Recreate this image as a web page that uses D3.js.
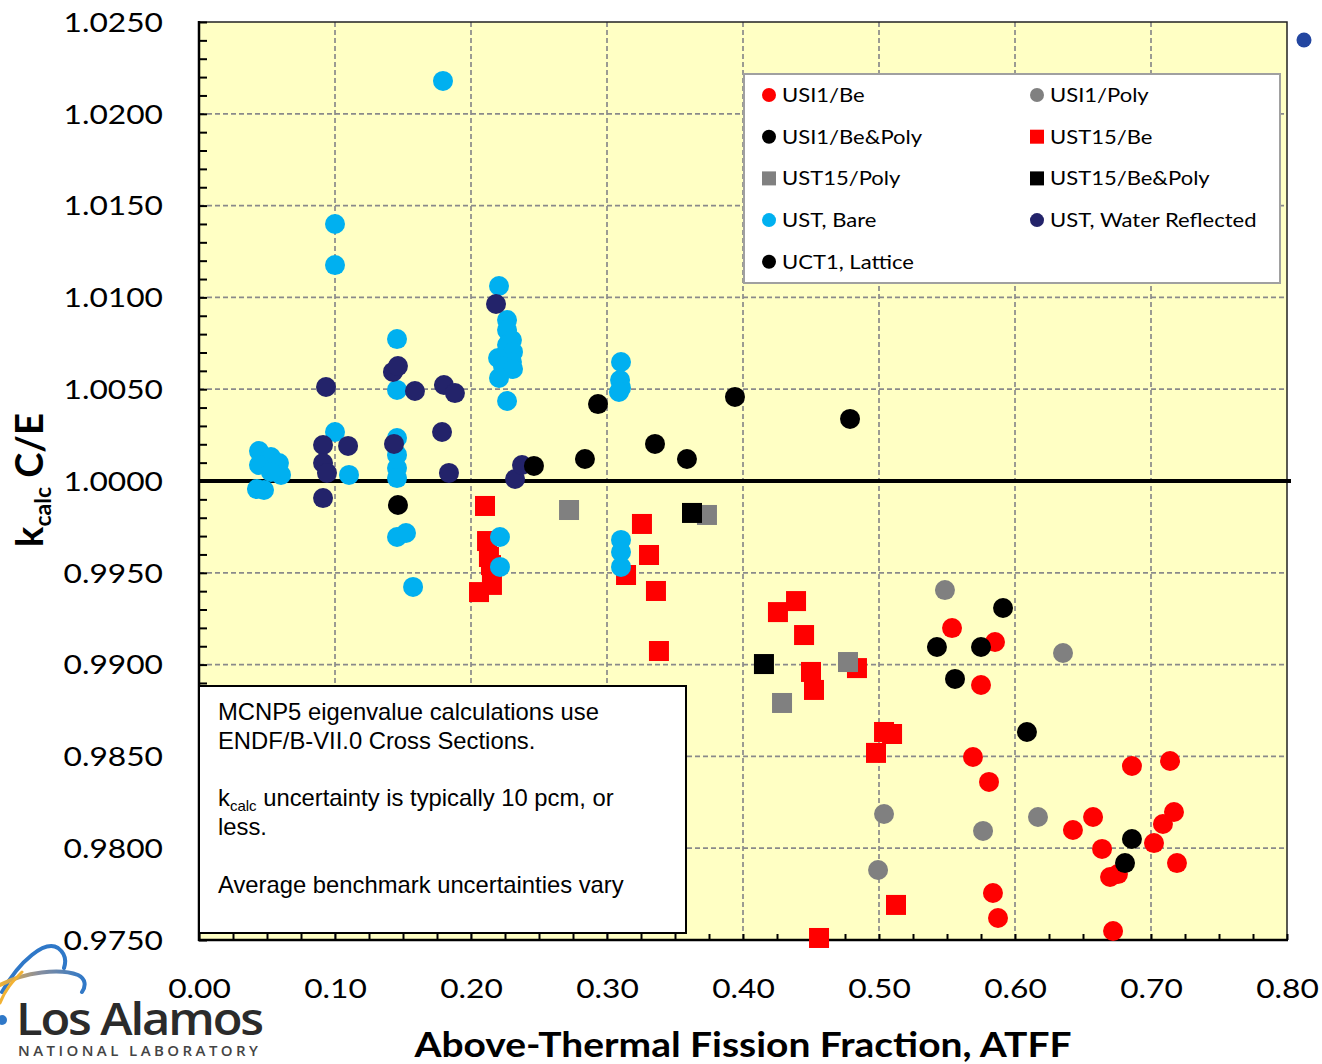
<!DOCTYPE html>
<html>
<head>
<meta charset="utf-8">
<script src="https://cdn.jsdelivr.net/npm/d3@7"></script>
<style>
  body { margin: 0; background: #fff; }
  svg { display: block; }
</style>
</head>
<body>
<svg id="chart" width="1322" height="1064"></svg>
<script>
// ---- data: [ATFF, kcalc C/E] ----
var usi1Be = [[0.5537,0.99199],[0.5853,0.99123],[0.5750,0.98889],[0.5691,0.98497],[0.5809,0.98361],
  [0.6860,0.98448],[0.7140,0.98475],[0.6574,0.98170],[0.6426,0.98099],[0.6640,0.97996],
  [0.7169,0.98197],[0.7088,0.98132],[0.7022,0.98028],[0.7191,0.97919],[0.6699,0.97843],
  [0.6757,0.97859],[0.5838,0.97756],[0.5875,0.97620],[0.6721,0.97549]];
var usi1Poly = [[0.5485,0.99406],[0.6353,0.99063],[0.5037,0.98186],[0.4993,0.97881],[0.5765,0.98094],[0.6169,0.98170]];
var usi1BePoly = [[0.5912,0.99308],[0.5426,0.99096],[0.5750,0.99096],[0.5559,0.98922],[0.6088,0.98633],
  [0.6860,0.98050],[0.6809,0.97919]];
var ust15Be = [[0.2103,0.99864],[0.2118,0.99673],[0.2132,0.99586],[0.2147,0.99542],[0.2154,0.99434],
  [0.2059,0.99395],[0.3257,0.99766],[0.3309,0.99597],[0.3140,0.99488],[0.3360,0.99401],
  [0.3382,0.99074],[0.4390,0.99346],[0.4257,0.99286],[0.4449,0.99161],[0.4500,0.98960],
  [0.4522,0.98862],[0.4838,0.98981],[0.5037,0.98633],[0.5096,0.98622],[0.4978,0.98519],
  [0.5125,0.97691],[0.4559,0.97511]];
var ust15Poly = [[0.2721,0.99842],[0.3735,0.99815],[0.4772,0.99014],[0.4287,0.98791]];
var ust15BePoly = [[0.3625,0.99826],[0.4154,0.99003]];
var ustBare = [[0.1794,1.02179],[0.1000,1.01400],[0.1000,1.01176],[0.0441,1.00163],[0.0529,1.00131],
  [0.0588,1.00098],[0.0441,1.00087],[0.0603,1.00033],[0.0529,1.00049],[0.0426,0.99956],
  [0.0478,0.99951],[0.1000,1.00267],[0.1103,1.00033],[0.1456,1.00773],[0.1456,1.00496],
  [0.1456,1.00234],[0.1456,1.00142],[0.1456,1.00071],[0.1456,1.00016],[0.1456,0.99695],
  [0.1522,0.99717],[0.1574,0.99423],[0.2206,1.01062],[0.2265,1.00877],[0.2265,1.00822],
  [0.2301,1.00768],[0.2265,1.00741],[0.2309,1.00703],[0.2199,1.00670],[0.2301,1.00648],
  [0.2235,1.00626],[0.2309,1.00610],[0.2206,1.00561],[0.2265,1.00436],[0.2213,0.99695],
  [0.2213,0.99532],[0.3103,1.00648],[0.3096,1.00550],[0.3103,1.00507],[0.3088,1.00485],
  [0.3103,0.99679],[0.3103,0.99613],[0.3103,0.99532]];
var ustWater = [[0.0934,1.00512],[0.0912,1.00196],[0.0912,1.00098],[0.0941,1.00044],[0.0912,0.99907],
  [0.1096,1.00191],[0.1426,1.00594],[0.1463,1.00626],[0.1588,1.00490],[0.1434,1.00202],
  [0.1801,1.00523],[0.1882,1.00479],[0.1787,1.00267],[0.1838,1.00044],[0.2184,1.00964],
  [0.2324,1.00011],[0.2375,1.00087]];
var uct1Lattice = [[0.1463,0.99869],[0.2463,1.00082],[0.2838,1.00120],[0.2934,1.00419],[0.3353,1.00202],
  [0.3588,1.00120],[0.3941,1.00458],[0.4787,1.00338]];
var strayPoint = [[0.8125,1.02402]];

var seriesNames = ["USI1/Be","USI1/Poly","USI1/Be&Poly","UST15/Be","UST15/Poly","UST15/Be&Poly",
  "UST, Bare","UST, Water Reflected","UCT1, Lattice"];
var seriesData = [usi1Be, usi1Poly, usi1BePoly, ust15Be, ust15Poly, ust15BePoly, ustBare, ustWater, uct1Lattice];
var seriesShapes = ["circle","circle","circle","square","square","square","circle","circle","circle"];
var seriesColors = ["#ff0000","#808080","#000000","#ff0000","#808080","#000000","#00b0f0","#23236a","#000000"];

var xTickValues = [0,0.1,0.2,0.3,0.4,0.5,0.6,0.7,0.8];
var xTickLabels = ["0.00","0.10","0.20","0.30","0.40","0.50","0.60","0.70","0.80"];
var yTickValues = [0.975,0.98,0.985,0.99,0.995,1.0,1.005,1.01,1.015,1.02,1.025];
var yTickLabels = ["0.9750","0.9800","0.9850","0.9900","0.9950","1.0000","1.0050","1.0100","1.0150","1.0200","1.0250"];

var noteLines = ["MCNP5 eigenvalue calculations use","ENDF/B-VII.0 Cross Sections.","",
  "k|calc| uncertainty is typically 10 pcm, or","less.","","Average benchmark uncertainties vary"];

// ---- layout ----
var svg = d3.select("#chart");
var plotL = 199, plotR = 1287, plotT = 22, plotB = 940;

var x = d3.scaleLinear().domain([0, 0.8]).range([plotL, plotR]);
var y = d3.scaleLinear().domain([0.975, 1.025]).range([plotB, plotT]);

svg.append("rect")
  .attr("x", plotL).attr("y", plotT)
  .attr("width", plotR - plotL).attr("height", plotB - plotT)
  .attr("fill", "#ffffc4");

// dashed grid
var grid = svg.append("g").attr("stroke", "#8a8a8a").attr("stroke-width", 1.7).attr("stroke-dasharray", "5,3");
grid.selectAll(".vx").data(xTickValues.slice(1, -1)).enter().append("line")
  .attr("x1", function(d) { return x(d); }).attr("x2", function(d) { return x(d); })
  .attr("y1", plotT).attr("y2", plotB);
grid.selectAll(".hy").data(yTickValues.slice(1, -1)).enter().append("line")
  .attr("x1", plotL).attr("x2", plotR)
  .attr("y1", function(d) { return y(d); }).attr("y2", function(d) { return y(d); });

// frame
svg.append("rect")
  .attr("x", plotL).attr("y", plotT)
  .attr("width", plotR - plotL).attr("height", plotB - plotT)
  .attr("fill", "none").attr("stroke", "#222").attr("stroke-width", 1.5);

// minor ticks (inside)
var yMinor = svg.append("g").attr("transform", "translate(" + plotL + ",0)")
  .call(d3.axisRight(y).ticks(50).tickSize(8).tickFormat(""));
yMinor.select(".domain").remove();
yMinor.selectAll("line").attr("stroke", "#000").attr("stroke-width", 2);

var xMinor = svg.append("g").attr("transform", "translate(0," + plotB + ")")
  .call(d3.axisTop(x).tickValues(d3.range(0, 0.8001, 0.025)).tickSize(6).tickFormat(""));
xMinor.select(".domain").remove();
xMinor.selectAll("line").attr("stroke", "#000").attr("stroke-width", 2);

// axis lines
svg.append("line").attr("x1", plotL).attr("x2", plotL).attr("y1", plotT - 1).attr("y2", plotB + 1)
  .attr("stroke", "#000").attr("stroke-width", 2.5);
svg.append("line").attr("x1", plotL - 1).attr("x2", plotR + 1).attr("y1", plotB).attr("y2", plotB)
  .attr("stroke", "#000").attr("stroke-width", 2.5);

// tick labels
var stretch = 1.22;
var yAxis = svg.append("g").attr("transform", "translate(" + plotL + ",0)")
  .call(d3.axisLeft(y).tickValues(yTickValues).tickSize(0)
    .tickFormat(function(d, i) { return yTickLabels[i]; }));
yAxis.select(".domain").remove();
yAxis.selectAll("text")
  .attr("x", -36 / stretch).attr("dy", "0.36em")
  .attr("transform", "scale(" + stretch + ",1)")
  .attr("font-family", "Lato").attr("font-size", 26).attr("fill", "#000");

var xAxis = svg.append("g").attr("transform", "translate(0," + plotB + ")")
  .call(d3.axisBottom(x).tickValues(xTickValues).tickSize(0)
    .tickFormat(function(d, i) { return xTickLabels[i]; }));
xAxis.select(".domain").remove();
xAxis.selectAll("text")
  .attr("y", 58).attr("dy", null)
  .attr("transform", "scale(" + stretch + ",1)")
  .attr("font-family", "Lato").attr("font-size", 26).attr("fill", "#000");

// kcalc = 1 line
svg.append("line")
  .attr("x1", x(0)).attr("x2", plotR + 4)
  .attr("y1", y(1.0)).attr("y2", y(1.0))
  .attr("stroke", "#000").attr("stroke-width", 4);

// markers
function drawMarks(g, pts, shape, color, size) {
  if (shape === "circle") {
    g.selectAll("circle").data(pts).enter().append("circle")
      .attr("cx", function(d) { return x(d[0]); })
      .attr("cy", function(d) { return y(d[1]); })
      .attr("r", size / 2)
      .attr("fill", color);
  } else {
    g.selectAll("rect").data(pts).enter().append("rect")
      .attr("x", function(d) { return x(d[0]) - size / 2; })
      .attr("y", function(d) { return y(d[1]) - size / 2; })
      .attr("width", size).attr("height", size)
      .attr("fill", color);
  }
}
seriesData.forEach(function(pts, i) {
  drawMarks(svg.append("g").attr("class", "series"), pts, seriesShapes[i], seriesColors[i], 20);
});
drawMarks(svg.append("g"), strayPoint, "circle", "#2346a0", 15);

// legend
var legend = svg.append("g").attr("class", "legend");
legend.append("rect")
  .attr("x", 744).attr("y", 74).attr("width", 536).attr("height", 209)
  .attr("fill", "#fff").attr("stroke", "#a0a0a0").attr("stroke-width", 2);
var legItems = legend.selectAll(".item").data(seriesNames).enter().append("g")
  .attr("transform", function(d, i) {
    return "translate(" + (i % 2 === 0 ? 769 : 1037) + "," + (95 + Math.floor(i / 2) * 41.7) + ")";
  });
legItems.each(function(d, i) {
  var g = d3.select(this);
  if (seriesShapes[i] === "circle") {
    g.append("circle").attr("r", 7).attr("fill", seriesColors[i]);
  } else {
    g.append("rect").attr("x", -7).attr("y", -7).attr("width", 14).attr("height", 14).attr("fill", seriesColors[i]);
  }
  g.append("text")
    .attr("x", 13 / 1.16).attr("dy", "0.36em")
    .attr("transform", "scale(1.16,1)")
    .attr("font-family", "Lato").attr("font-size", 19).attr("fill", "#000")
    .text(d);
});

// note box
var note = svg.append("g");
note.append("rect")
  .attr("x", 199).attr("y", 686).attr("width", 487).attr("height", 247)
  .attr("fill", "#fff").attr("stroke", "#000").attr("stroke-width", 2);
var noteText = note.append("text")
  .attr("font-family", "Liberation Sans, Arial, sans-serif").attr("font-size", 23.8).attr("fill", "#000");
noteLines.forEach(function(line, i) {
  var t = noteText.append("tspan").attr("x", 218).attr("y", 720 + i * 28.8);
  var parts = line.split("|");
  if (parts.length === 3) {
    t.text(parts[0]);
    noteText.append("tspan").attr("font-size", 15).attr("dy", 5).text(parts[1]);
    noteText.append("tspan").attr("dy", -5).text(parts[2]);
  } else {
    t.text(line);
  }
});

// axis titles
svg.append("text")
  .attr("x", 743).attr("y", 1057)
  .attr("text-anchor", "middle")
  .attr("font-family", "Lato").attr("font-weight", "bold").attr("font-size", 35)
  .attr("textLength", 657).attr("lengthAdjust", "spacingAndGlyphs")
  .text("Above-Thermal Fission Fraction, ATFF");

var yTitle = svg.append("text")
  .attr("transform", "translate(43,480) rotate(-90)")
  .attr("text-anchor", "middle")
  .attr("font-family", "Lato").attr("font-weight", "bold").attr("font-size", 38);
yTitle.append("tspan").text("k");
yTitle.append("tspan").attr("font-size", 23).attr("dy", 8).text("calc");
yTitle.append("tspan").attr("dy", -8).text(" C/E");

// Los Alamos logo
var logo = svg.append("g");
var grad = svg.append("defs").append("linearGradient").attr("id", "arcGrad")
  .attr("x1", "0%").attr("x2", "100%").attr("y1", "0%").attr("y2", "0%");
grad.append("stop").attr("offset", "0%").attr("stop-color", "#f2b233");
grad.append("stop").attr("offset", "45%").attr("stop-color", "#8a8f9c");
grad.append("stop").attr("offset", "100%").attr("stop-color", "#2f78c8");
logo.append("path").attr("d", "M2,992 C20,960 45,940 58,948 C66,954 66,962 64,968")
  .attr("fill", "none").attr("stroke", "#2f78c8").attr("stroke-width", 4).attr("stroke-linecap", "round");
logo.append("path").attr("d", "M0,985 C25,972 60,968 78,975 C86,979 86,986 82,992")
  .attr("fill", "none").attr("stroke", "url(#arcGrad)").attr("stroke-width", 4).attr("stroke-linecap", "round");
logo.append("path").attr("d", "M0,1003 C5,990 12,982 22,972")
  .attr("fill", "none").attr("stroke", "#f2b233").attr("stroke-width", 3).attr("stroke-linecap", "round");
logo.append("circle").attr("cx", 2).attr("cy", 1020).attr("r", 5).attr("fill", "#2f78c8");
logo.append("text")
  .attr("x", 16).attr("y", 1035)
  .attr("font-family", "Open Sans").attr("font-weight", 600).attr("font-size", 46)
  .attr("letter-spacing", -2).attr("fill", "#2b2b2b")
  .attr("textLength", 246).attr("lengthAdjust", "spacingAndGlyphs")
  .text("Los Alamos");
logo.append("text")
  .attr("x", 18).attr("y", 1056)
  .attr("font-family", "Open Sans").attr("font-weight", 600).attr("font-size", 15)
  .attr("fill", "#444")
  .attr("textLength", 240).attr("lengthAdjust", "spacing")
  .text("NATIONAL LABORATORY");
</script>
</body>
</html>
